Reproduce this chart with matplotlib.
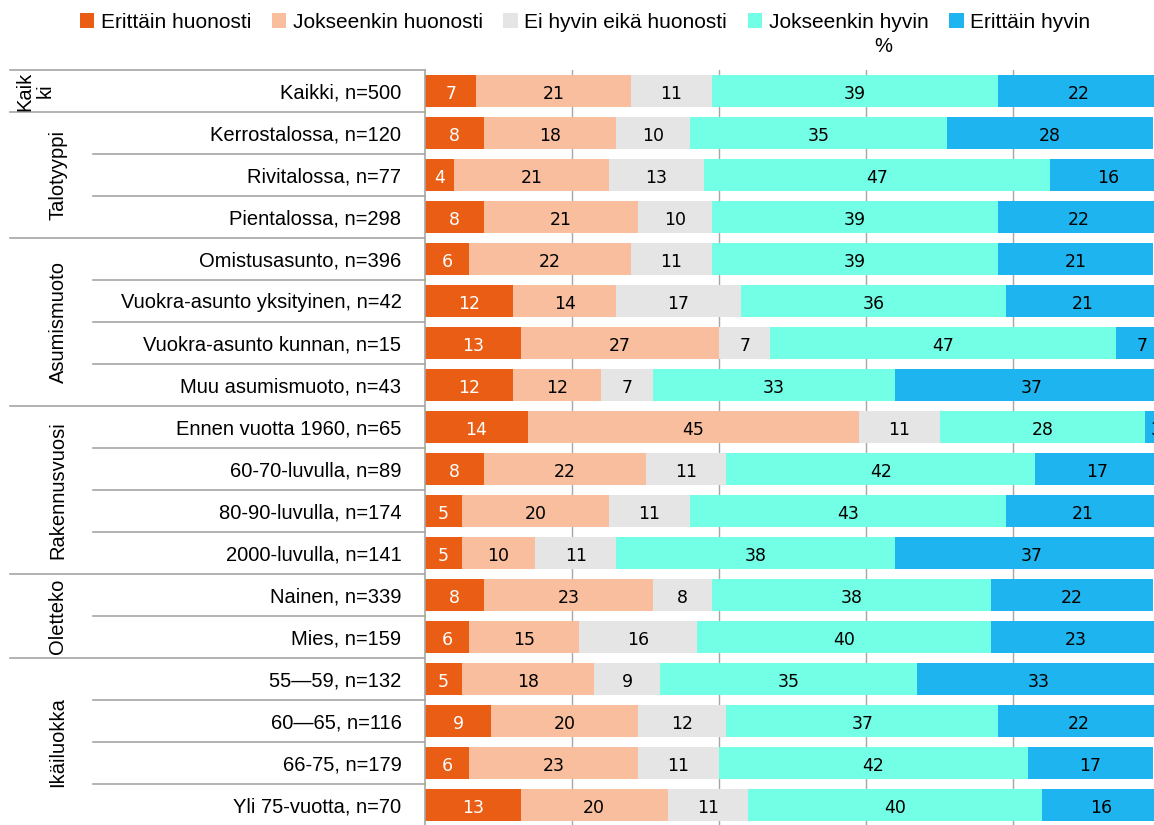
import numpy as np
import matplotlib.pyplot as plt
import matplotlib.transforms as mtransforms

plt.rcParams['font.family'] = ['Liberation Sans', 'DejaVu Sans']

series = ['Erittäin huonosti', 'Jokseenkin huonosti', 'Ei hyvin eikä huonosti',
          'Jokseenkin hyvin', 'Erittäin hyvin']
colors = ['#E95E14', '#F8BE9E', '#E5E5E5', '#72FFE6', '#1EB4F0']
label_colors = ['white', 'black', 'black', 'black', 'black']

categories = ['Kaikki, n=500',
              'Kerrostalossa, n=120', 'Rivitalossa, n=77', 'Pientalossa, n=298',
              'Omistusasunto, n=396', 'Vuokra-asunto yksityinen, n=42',
              'Vuokra-asunto kunnan, n=15', 'Muu asumismuoto, n=43',
              'Ennen vuotta 1960, n=65', '60-70-luvulla, n=89',
              '80-90-luvulla, n=174', '2000-luvulla, n=141',
              'Nainen, n=339', 'Mies, n=159',
              '55\u201459, n=132', '60\u201465, n=116', '66-75, n=179',
              'Yli 75-vuotta, n=70']

groups = ['Kaik\nki', 'Talotyyppi', 'Asumismuoto', 'Rakennusvuosi', 'Oletteko', 'Ikäiluokka']
group_sizes = [1, 3, 4, 4, 2, 4]

erittain_huonosti = [7, 8, 4, 8, 6, 12, 13, 12, 14, 8, 5, 5, 8, 6, 5, 9, 6, 13]
jokseenkin_huonosti = [21, 18, 21, 21, 22, 14, 27, 12, 45, 22, 20, 10, 23, 15, 18, 20, 23, 20]
ei_hyvin = [11, 10, 13, 10, 11, 17, 7, 7, 11, 11, 11, 11, 8, 16, 9, 12, 11, 11]
jokseenkin_hyvin = [39, 35, 47, 39, 39, 36, 47, 33, 28, 42, 43, 38, 38, 40, 35, 37, 42, 40]
erittain_hyvin = [22, 28, 16, 22, 21, 21, 7, 37, 3, 17, 21, 37, 22, 23, 33, 22, 17, 16]

data = [erittain_huonosti, jokseenkin_huonosti, ei_hyvin, jokseenkin_hyvin, erittain_hyvin]

fig = plt.figure(figsize=(11.54, 8.25), dpi=100)
W, H = 1154, 825
ax_left, ax_right, ax_top, ax_bot = 425, 1160, 70, 826
ax = fig.add_axes([ax_left / W, 1 - ax_bot / H, (ax_right - ax_left) / W, (ax_bot - ax_top) / H])

y = np.arange(len(categories))
left = np.zeros(len(categories))
for vals, name, c, lc in zip(data, series, colors, label_colors):
    vals = np.array(vals, dtype=float)
    ax.barh(y, vals, left=left, height=0.78, color=c, label=name, zorder=2)
    for yi, l, v in zip(y, left, vals):
        ax.text(l + v / 2, yi + 0.06, f'{int(v)}', ha='center', va='center',
                fontsize=12.5, color=lc, family='DejaVu Sans', zorder=3)
    left += vals

ax.set_xlim(0, 100)
ax.set_ylim(len(categories) - 0.5, -0.5)
ax.set_xticks([20, 40, 60, 80])
ax.xaxis.grid(True, color='#A6A6A6', linewidth=1, zorder=0)
ax.tick_params(axis='x', length=0, labelbottom=False)
ax.set_yticks(y)
ax.set_yticklabels(categories, fontsize=14.5)
ax.tick_params(axis='y', length=0, pad=17)
for s in ['top', 'right', 'bottom']:
    ax.spines[s].set_visible(False)
ax.spines['left'].set_color('#A6A6A6')
ax.spines['left'].set_linewidth(1.2)

# separators and group labels
trans = mtransforms.blended_transform_factory(ax.transAxes, ax.transData)
span = ax_right - ax_left
gx0 = (10 - ax_left) / span
rx0 = (93 - ax_left) / span
ax.plot([gx0, 0], [-0.5, -0.5], transform=trans, color='#A6A6A6', lw=1.2, clip_on=False)
start = 0
for g, n in zip(groups, group_sizes):
    end = start + n
    ax.plot([gx0, 0], [end - 0.5, end - 0.5], transform=trans, color='#A6A6A6', lw=1.2, clip_on=False)
    for k in range(start + 1, end):
        ax.plot([rx0, 0], [k - 0.5, k - 0.5], transform=trans, color='#A6A6A6', lw=1.2, clip_on=False)
    gx = (35 - ax_left) / span if '\n' in g else (58 - ax_left) / span
    ax.text(gx, (start + end - 1) / 2, g, transform=trans, rotation=90, ha='center',
            va='center', fontsize=14.5, linespacing=1.1)
    start = end

fig.legend(loc='center', bbox_to_anchor=(585 / W, 1 - 22 / H), ncol=5, frameon=False,
           fontsize=15, handlelength=0.7, handleheight=0.7, handletextpad=0.3,
           columnspacing=1.0, borderaxespad=0.0, borderpad=0.0)
fig.text(883 / W, 1 - 46 / H, '%', ha='center', va='center', fontsize=14.5)

fig.savefig('out.png', dpi=100)
